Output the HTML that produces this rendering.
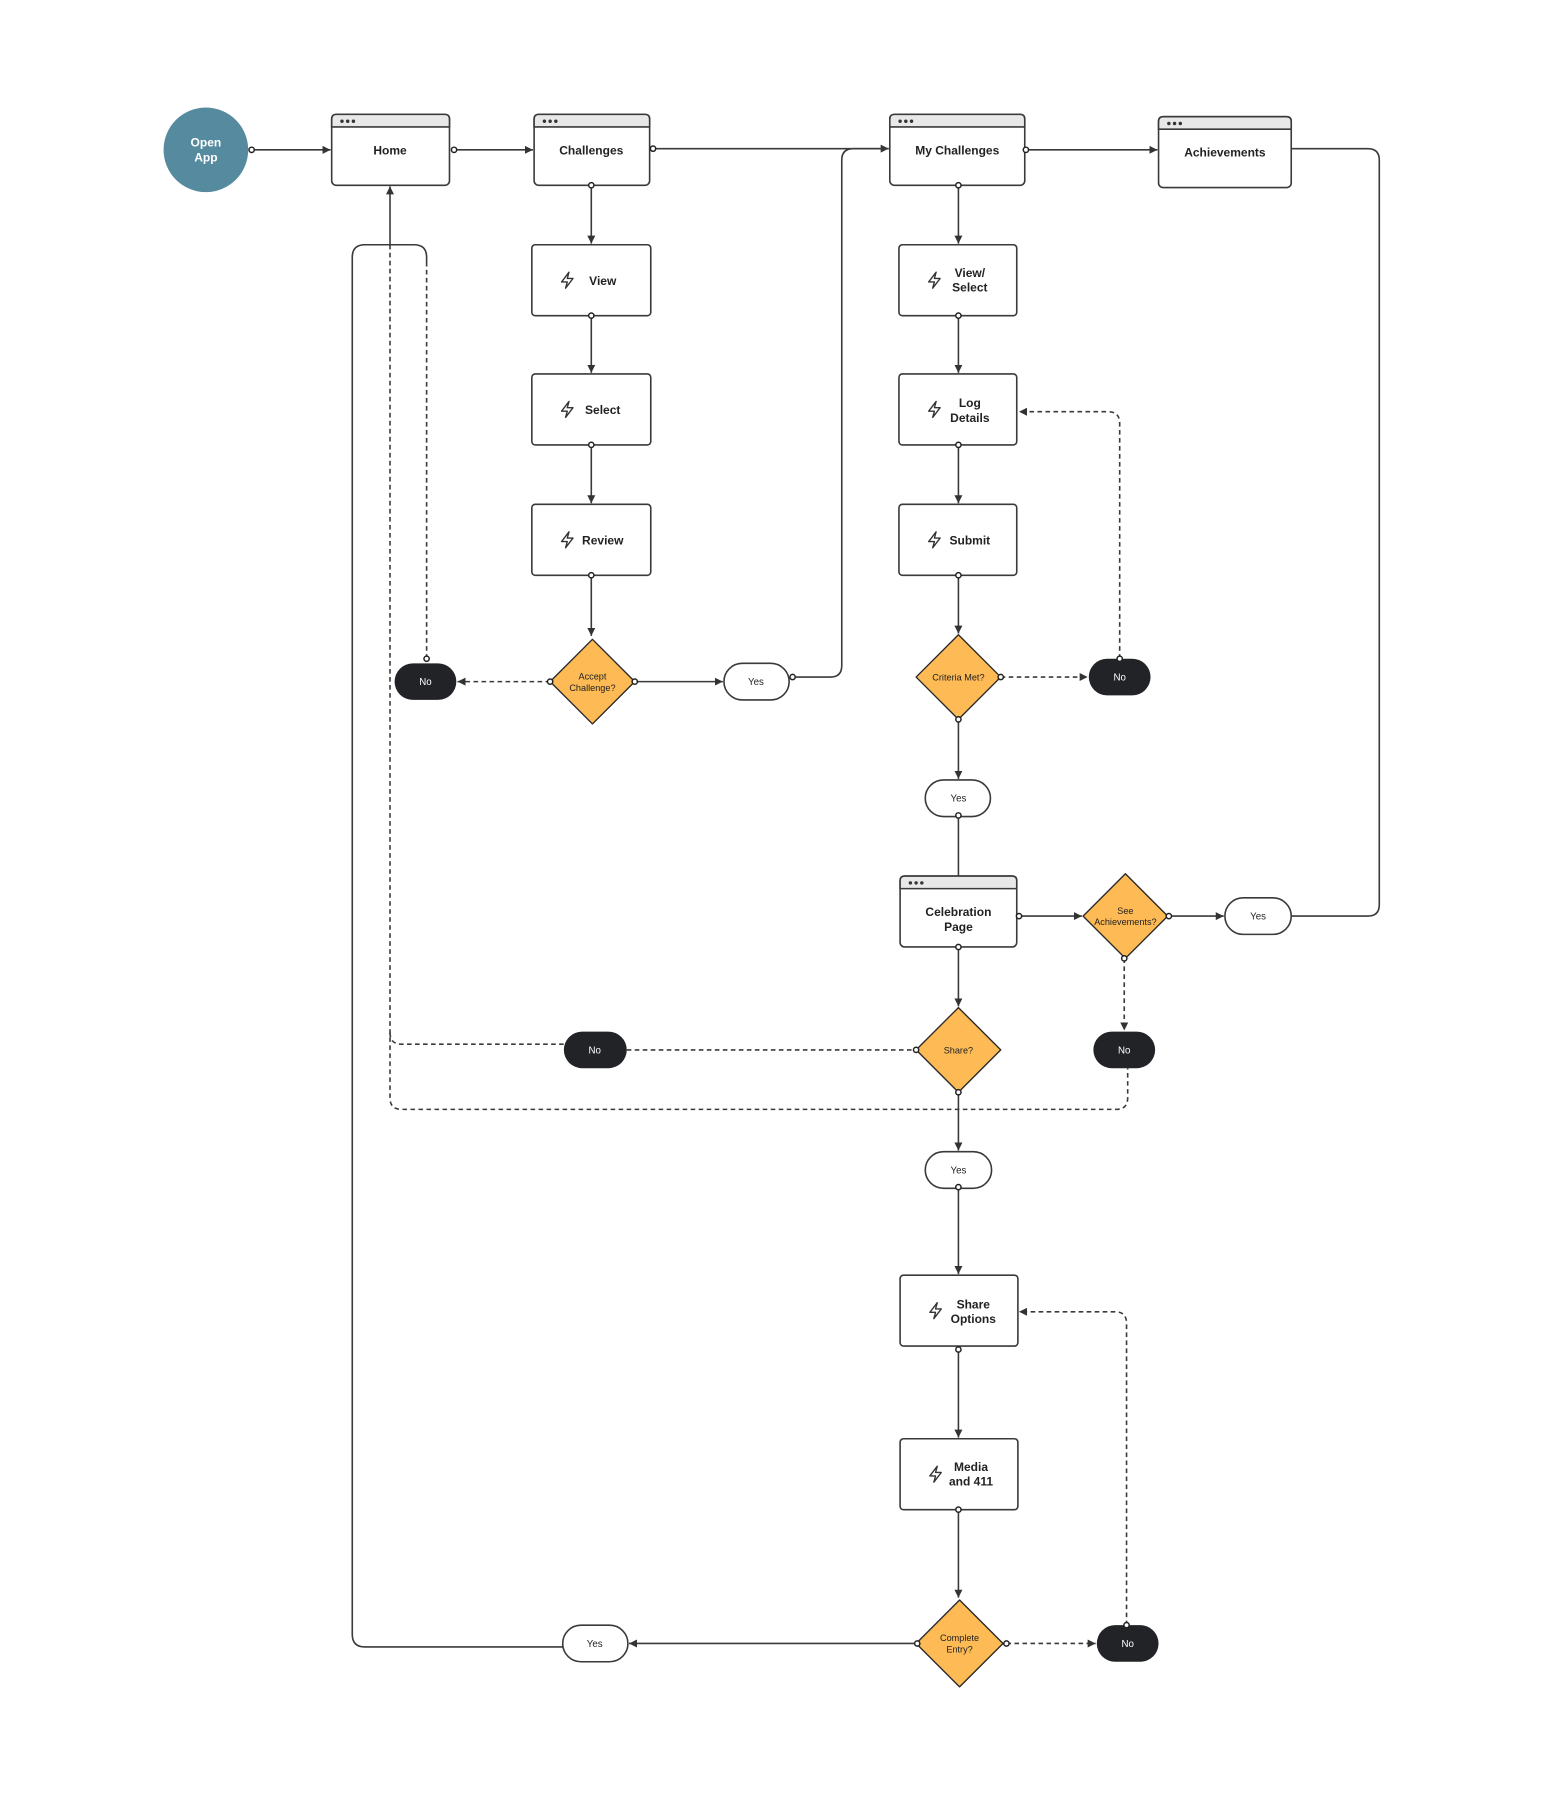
<!DOCTYPE html>
<html><head><meta charset="utf-8"><style>
html,body{margin:0;padding:0;background:#fff}
svg{display:block}
text{font-family:"Liberation Sans",sans-serif;fill:#222}
.b{font-weight:bold;font-size:10.5px}
.s{font-size:8.5px}
.d{font-size:8px}
</style></head><body>
<svg width="1544" height="1795" viewBox="0 0 1350 1569.5" xmlns="http://www.w3.org/2000/svg">
<defs>
<marker id="a" markerWidth="8" markerHeight="8" refX="7" refY="4" orient="auto" markerUnits="userSpaceOnUse"><path d="M0,0.5 L7,4 L0,7.5 Z" fill="#333"/></marker>
<symbol id="bolt" viewBox="0 0 14 16"><path d="M8.5,1 L2,9.5 H7 L5.5,15 L12,6.5 H7 Z" fill="none" stroke="#333" stroke-width="1.2" stroke-linejoin="round"/></symbol>
</defs>
<g fill="none" stroke="#3a3a3a" stroke-width="1.4">
<!-- solid connectors -->
<path d="M220,131 H289" marker-end="url(#a)"/>
<path d="M397,131 H466" marker-end="url(#a)"/>
<path d="M571,130 H777" marker-end="url(#a)"/>
<path d="M897,131 H1012" marker-end="url(#a)"/>
<path d="M517,162 V213" marker-end="url(#a)"/>
<path d="M517,276 V326" marker-end="url(#a)"/>
<path d="M517,389 V440" marker-end="url(#a)"/>
<path d="M517,503 V556" marker-end="url(#a)"/>
<path d="M555,596 H632" marker-end="url(#a)"/>
<path d="M693,592 H726 Q736,592 736,582 V140 Q736,130 746,130 H777"/>
<path d="M838,162 V213" marker-end="url(#a)"/>
<path d="M838,276 V326" marker-end="url(#a)"/>
<path d="M838,389 V440" marker-end="url(#a)"/>
<path d="M838,503 V554" marker-end="url(#a)"/>
<path d="M838,629 V681" marker-end="url(#a)"/>
<path d="M838,713 V766"/>
<path d="M891,801 H946" marker-end="url(#a)"/>
<path d="M1022,801 H1070" marker-end="url(#a)"/>
<path d="M1129,801 H1196 Q1206,801 1206,791 V140 Q1206,130 1196,130 H1129"/>
<path d="M838,828 V880" marker-end="url(#a)"/>
<path d="M838,955 V1006" marker-end="url(#a)"/>
<path d="M838,1038 V1114" marker-end="url(#a)"/>
<path d="M838,1180 V1257" marker-end="url(#a)"/>
<path d="M838,1320 V1397" marker-end="url(#a)"/>
<path d="M802,1437 H550" marker-end="url(#a)"/>
<path d="M492,1440 H319 Q308,1440 308,1429 V225 Q308,214 319,214 H362 Q373,214 373,225 V233"/>
<path d="M341,214 V163" marker-end="url(#a)"/>
</g>
<g fill="none" stroke="#3a3a3a" stroke-width="1.4" stroke-dasharray="4,3">
<path d="M481,596 H400" marker-end="url(#a)"/>
<path d="M373,576 V233"/>
<path d="M341,214 V960 Q341,970 351,970 H976 Q986,970 986,960 V934"/>
<path d="M341,903 Q341,913 351,913 H493"/>
<path d="M548,918 H801"/>
<path d="M875,592 H951" marker-end="url(#a)"/>
<path d="M979,576 V370 Q979,360 969,360 H891" marker-end="url(#a)"/>
<path d="M983,838 V901" marker-end="url(#a)"/>
<path d="M880,1437 H958" marker-end="url(#a)"/>
<path d="M985,1421 V1157 Q985,1147 975,1147 H891" marker-end="url(#a)"/>
</g>
<!-- start circle -->
<circle cx="180" cy="131" r="37" fill="#568A9E"/>
<text x="180" y="128" text-anchor="middle" class="b" style="fill:#fff">Open</text>
<text x="180" y="141" text-anchor="middle" class="b" style="fill:#fff">App</text>
<!-- window boxes -->
<g stroke="#3a3a3a" stroke-width="1.4">
<g><rect x="290" y="100" width="103" height="62" rx="4" fill="#fff"/><path d="M290,111 V104 Q290,100 294,100 H389 Q393,100 393,104 V111 Z" fill="#e8e8e8"/></g>
<g><rect x="467" y="100" width="101" height="62" rx="4" fill="#fff"/><path d="M467,111 V104 Q467,100 471,100 H564 Q568,100 568,104 V111 Z" fill="#e8e8e8"/></g>
<g><rect x="778" y="100" width="118" height="62" rx="4" fill="#fff"/><path d="M778,111 V104 Q778,100 782,100 H892 Q896,100 896,104 V111 Z" fill="#e8e8e8"/></g>
<g><rect x="1013" y="102" width="116" height="62" rx="4" fill="#fff"/><path d="M1013,113 V106 Q1013,102 1017,102 H1125 Q1129,102 1129,106 V113 Z" fill="#e8e8e8"/></g>
<g><rect x="787" y="766" width="102" height="62" rx="4" fill="#fff"/><path d="M787,777 V770 Q787,766 791,766 H885 Q889,766 889,770 V777 Z" fill="#e8e8e8"/></g>
</g>
<g fill="#333">
<circle cx="299" cy="106" r="1.5"/><circle cx="304" cy="106" r="1.5"/><circle cx="309" cy="106" r="1.5"/>
<circle cx="476" cy="106" r="1.5"/><circle cx="481" cy="106" r="1.5"/><circle cx="486" cy="106" r="1.5"/>
<circle cx="787" cy="106" r="1.5"/><circle cx="792" cy="106" r="1.5"/><circle cx="797" cy="106" r="1.5"/>
<circle cx="1022" cy="108" r="1.5"/><circle cx="1027" cy="108" r="1.5"/><circle cx="1032" cy="108" r="1.5"/>
<circle cx="796" cy="772" r="1.5"/><circle cx="801" cy="772" r="1.5"/><circle cx="806" cy="772" r="1.5"/>
</g>
<text x="341" y="135" text-anchor="middle" class="b">Home</text>
<text x="517" y="135" text-anchor="middle" class="b">Challenges</text>
<text x="837" y="135" text-anchor="middle" class="b">My Challenges</text>
<text x="1071" y="137" text-anchor="middle" class="b">Achievements</text>
<text x="838" y="801" text-anchor="middle" class="b">Celebration</text>
<text x="838" y="814" text-anchor="middle" class="b">Page</text>
<!-- action boxes -->
<g fill="#fff" stroke="#3a3a3a" stroke-width="1.4">
<rect x="465" y="214" width="104" height="62" rx="3"/>
<rect x="465" y="327" width="104" height="62" rx="3"/>
<rect x="465" y="441" width="104" height="62" rx="3"/>
<rect x="786" y="214" width="103" height="62" rx="3"/>
<rect x="786" y="327" width="103" height="62" rx="3"/>
<rect x="786" y="441" width="103" height="62" rx="3"/>
<rect x="787" y="1115" width="103" height="62" rx="3"/>
<rect x="787" y="1258" width="103" height="62" rx="3"/>
</g>
<use href="#bolt" x="489" y="237" width="14" height="16"/>
<use href="#bolt" x="489" y="350" width="14" height="16"/>
<use href="#bolt" x="489" y="464" width="14" height="16"/>
<use href="#bolt" x="810" y="237" width="14" height="16"/>
<use href="#bolt" x="810" y="350" width="14" height="16"/>
<use href="#bolt" x="810" y="464" width="14" height="16"/>
<use href="#bolt" x="811" y="1138" width="14" height="16"/>
<use href="#bolt" x="811" y="1281" width="14" height="16"/>
<text x="527" y="249" text-anchor="middle" class="b">View</text>
<text x="527" y="362" text-anchor="middle" class="b">Select</text>
<text x="527" y="476" text-anchor="middle" class="b">Review</text>
<text x="848" y="242" text-anchor="middle" class="b">View/</text>
<text x="848" y="255" text-anchor="middle" class="b">Select</text>
<text x="848" y="356" text-anchor="middle" class="b">Log</text>
<text x="848" y="369" text-anchor="middle" class="b">Details</text>
<text x="848" y="476" text-anchor="middle" class="b">Submit</text>
<text x="851" y="1144" text-anchor="middle" class="b">Share</text>
<text x="851" y="1157" text-anchor="middle" class="b">Options</text>
<text x="849" y="1286" text-anchor="middle" class="b">Media</text>
<text x="849" y="1299" text-anchor="middle" class="b">and 411</text>
<!-- diamonds -->
<g fill="#FDBA55" stroke="#2a2a2a" stroke-width="1.2" stroke-linejoin="round">
<path d="M518,559 L555,596 L518,633 L481,596 Z"/>
<path d="M838,555 L875,592 L838,629 L801,592 Z"/>
<path d="M984,764 L1021,801 L984,838 L947,801 Z"/>
<path d="M838,881 L875,918 L838,955 L801,918 Z"/>
<path d="M839,1399 L877,1437 L839,1475 L801,1437 Z"/>
</g>
<text x="518" y="594" text-anchor="middle" class="d">Accept</text>
<text x="518" y="604" text-anchor="middle" class="d">Challenge?</text>
<text x="838" y="595" text-anchor="middle" class="d">Criteria Met?</text>
<text x="984" y="799" text-anchor="middle" class="d">See</text>
<text x="984" y="809" text-anchor="middle" class="d">Achievements?</text>
<text x="838" y="921" text-anchor="middle" class="d">Share?</text>
<text x="839" y="1435" text-anchor="middle" class="d">Complete</text>
<text x="839" y="1445" text-anchor="middle" class="d">Entry?</text>
<!-- pills -->
<g fill="#fff" stroke="#3a3a3a" stroke-width="1.4">
<rect x="633" y="580" width="57" height="32" rx="16"/>
<rect x="809" y="682" width="57" height="32" rx="16"/>
<rect x="1071" y="785" width="58" height="32" rx="16"/>
<rect x="809" y="1007" width="58" height="32" rx="16"/>
<rect x="492" y="1421" width="57" height="32" rx="16"/>
</g>
<g fill="#222327">
<rect x="345" y="580" width="54" height="32" rx="16"/>
<rect x="952" y="576" width="54" height="32" rx="16"/>
<rect x="493" y="902" width="55" height="32" rx="16"/>
<rect x="956" y="902" width="54" height="32" rx="16"/>
<rect x="959" y="1421" width="54" height="32" rx="16"/>
</g>
<text x="661" y="599" text-anchor="middle" class="s">Yes</text>
<text x="838" y="701" text-anchor="middle" class="s">Yes</text>
<text x="1100" y="804" text-anchor="middle" class="s">Yes</text>
<text x="838" y="1026" text-anchor="middle" class="s">Yes</text>
<text x="520" y="1440" text-anchor="middle" class="s">Yes</text>
<g style="fill:#fff">
<text x="372" y="599" text-anchor="middle" class="s" style="fill:#fff">No</text>
<text x="979" y="595" text-anchor="middle" class="s" style="fill:#fff">No</text>
<text x="520" y="921" text-anchor="middle" class="s" style="fill:#fff">No</text>
<text x="983" y="921" text-anchor="middle" class="s" style="fill:#fff">No</text>
<text x="986" y="1440" text-anchor="middle" class="s" style="fill:#fff">No</text>
</g>
<!-- connection dots -->
<g fill="#fff" stroke="#222" stroke-width="1.3">
<circle cx="220" cy="131" r="2.3"/><circle cx="397" cy="131" r="2.3"/><circle cx="571" cy="130" r="2.3"/>
<circle cx="897" cy="131" r="2.3"/><circle cx="517" cy="162" r="2.3"/><circle cx="517" cy="276" r="2.3"/>
<circle cx="517" cy="389" r="2.3"/><circle cx="517" cy="503" r="2.3"/><circle cx="555" cy="596" r="2.3"/>
<circle cx="481" cy="596" r="2.3"/><circle cx="693" cy="592" r="2.3"/><circle cx="373" cy="576" r="2.3"/>
<circle cx="838" cy="162" r="2.3"/><circle cx="838" cy="276" r="2.3"/><circle cx="838" cy="389" r="2.3"/>
<circle cx="838" cy="503" r="2.3"/><circle cx="875" cy="592" r="2.3"/><circle cx="838" cy="629" r="2.3"/>
<circle cx="979" cy="576" r="2.3"/><circle cx="838" cy="713" r="2.3"/><circle cx="891" cy="801" r="2.3"/>
<circle cx="1022" cy="801" r="2.3"/><circle cx="983" cy="838" r="2.3"/><circle cx="838" cy="828" r="2.3"/>
<circle cx="801" cy="918" r="2.3"/><circle cx="838" cy="955" r="2.3"/><circle cx="838" cy="1038" r="2.3"/>
<circle cx="838" cy="1180" r="2.3"/><circle cx="838" cy="1320" r="2.3"/><circle cx="802" cy="1437" r="2.3"/>
<circle cx="880" cy="1437" r="2.3"/><circle cx="985" cy="1421" r="2.3"/>
</g>
</svg>
</body></html>
